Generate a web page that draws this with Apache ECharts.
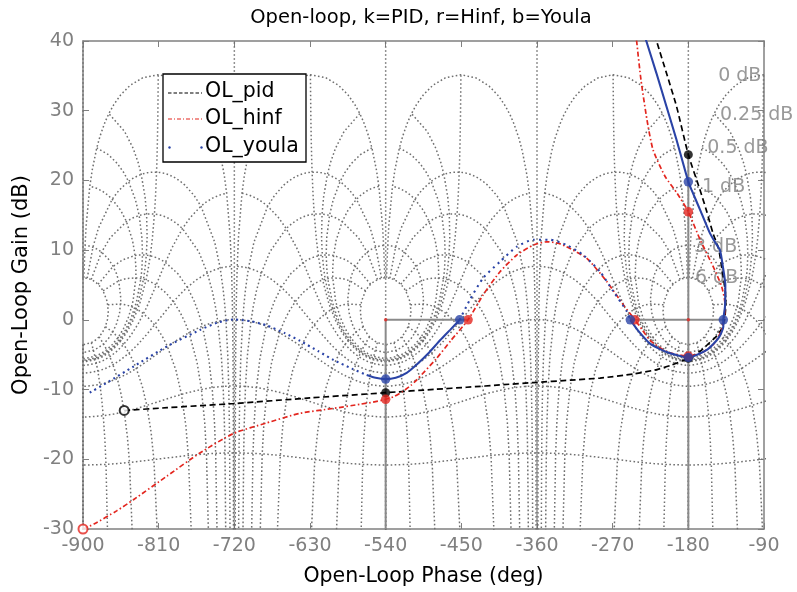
<!DOCTYPE html>
<html><head><meta charset="utf-8">
<script src="https://cdn.jsdelivr.net/npm/echarts@6/dist/echarts.min.js"></script>
<style>html,body{margin:0;padding:0;background:#fff}#c{width:797px;height:592px}</style>
</head><body><div id="c"></div>
<script>
// ---------- text ----------
const TITLE = 'Open-loop, k=PID, r=Hinf, b=Youla';
const X_NAME = 'Open-Loop Phase (deg)';
const Y_NAME = 'Open-Loop Gain (dB)';
const LEGEND_NAMES = ['OL_pid', 'OL_hinf', 'OL_youla'];

// ---------- axes ----------
const PHASE_MIN = -900, PHASE_MAX = -90, PHASE_STEP = 90;
const GAIN_MIN = -30, GAIN_MAX = 40, GAIN_STEP = 10;

// ---------- Nichols grid definition (closed-loop levels) ----------
const M_LEVELS_DB = [6, 3, 1, 0.5, 0.25, 0, -1, -3, -6, -12, -20];
const M_PHASE_PTS = [1, 2, 3, 4, 5, 7.5, 10, 15, 20, 25, 30, 45, 60, 75, 90, 105, 120, 135, 150, 175, 180];
const N_LEVELS_DEG = [1, 5, 10, 20, 30, 50, 90, 120, 150, 180];
const N_GAIN_PTS = [6, 3, 2, 1, .75, .5, .4, .3, .25, .2, .15, .1, .05, 0, -.05, -.1, -.15, -.2, -.25, -.3, -.4, -.5, -.75, -1, -2, -3, -4, -5, -6, -9, -12, -16, -20, -30, -40, -50, -60];
const GRID_COPIES = [0, -360, -720];
const GRID_LABELS = ['0 dB', '0.25 dB', '0.5 dB', '1 dB', '3 dB', '6 dB'];
const GRID_LABEL_PHASE = [-144.5, -142.4, -157.5, -163.8, -173.3, -172.1];
const GRID_LABEL_GAIN = [34.9, 29.4, 24.6, 19.1, 10.5, 6.0];

// ---------- open-loop data ----------
const pidPhase = [-851, -800, -720, -630, -540, -480, -443.6, -400, -364.4, -320, -285, -245.5, -220, -200, -180, -166, -155, -146, -140, -137, -135.5, -136, -137.6, -140.4, -144, -150.6, -158, -166, -180, -194, -205, -217.8, -224];
const pidGain  = [-13.0, -12.6, -12.0, -11.2, -10.45, -9.95, -9.67, -9.3, -9.0, -8.65, -8.35, -7.77, -7.2, -6.5, -5.5, -4.5, -3.3, -2.3, -1.2, 0, 2.0, 4.0, 5.5, 7.6, 10.2, 12.4, 15.5, 18.6, 23.7, 30.6, 35.0, 40.0, 42.5];

const hinfPhase = [-900, -887, -860, -840, -800, -761, -721, -682, -642, -602, -570, -555, -540, -530, -520, -510, -503, -480, -462, -442, -424, -404, -384, -364, -348.5, -335, -325, -301, -277, -257, -243.5, -235, -225, -205, -180, -165, -150, -141, -137, -136.5, -140.4, -150.3, -166, -180, -193, -207.8, -222, -229.2, -236.3, -241.5, -243];
const hinfGain  = [-30.0, -29.3, -27.4, -25.8, -22.4, -19.1, -16.3, -14.8, -13.4, -12.7, -12.1, -11.8, -11.4, -11.0, -10.3, -9.4, -8.6, -5.6, -2.9, 0, 3.6, 6.9, 9.3, 10.75, 11.2, 11.0, 10.5, 8.85, 5.5, 2.1, 0, -1.4, -3.0, -4.6, -5.2, -4.8, -3.5, -1.6, 0.5, 2.4, 4.8, 7.6, 11.5, 15.5, 18.1, 20.6, 24.4, 28.7, 34.4, 40.0, 42.0];

// youla drawn as dots; dense stretches look solid
const youlaPhaseA = [-892, -870, -840, -800, -761, -740, -721, -700, -681.5, -660, -642, -620, -602, -580, -562.6];
const youlaGainA  = [-10.45, -8.9, -6.7, -3.8, -1.45, -0.4, 0.05, -0.2, -0.8, -1.9, -3.0, -4.5, -5.75, -7.0, -7.9];
const youlaPhaseB = [-562.6, -552, -540, -528, -515, -503, -490, -475, -463, -452];
const youlaGainB  = [-7.9, -8.3, -8.5, -8.3, -7.6, -6.4, -4.9, -2.9, -1.4, 0];
const youlaPhaseC = [-452, -440, -424, -404, -384, -364, -345, -325, -305, -285, -269, -253, -249];
const youlaGainC  = [0, 2.85, 6.0, 8.35, 10.5, 11.5, 11.5, 10.75, 9.3, 6.9, 4.05, 1.2, 0];
const youlaPhaseD = [-249, -240, -225.6, -206, -180, -158, -144.4, -138.4, -138.4, -136.4, -136, -139, -142.4, -148, -154.2, -165, -176, -180, -194, -206, -218, -230, -233];
const youlaGainD  = [0, -1.5, -3.4, -4.6, -5.4, -4.3, -2.65, -1.0, 0, 1.9, 5.0, 7.7, 10.0, 11.1, 12.4, 15.5, 18.6, 19.8, 25.8, 30.6, 35.4, 40.0, 41.2];

// margin points
const pidMarkPhase = [-180, -540, -180];
const pidMarkGain  = [23.7, -10.45, -5.5];
const hinfMarkPhase = [-180, -540, -180, -442, -243.5];
const hinfMarkGain  = [15.5, -11.4, -5.2, 0, 0];
const youlaMarkPhase = [-180, -540, -180, -452, -249, -138.4];
const youlaMarkGain  = [19.8, -8.5, -5.4, 0, 0, 0];
const pidStart = [-851, -13.0];
const hinfStart = [-900, -30.0];
// margin lines
const marginSegments = [
  [[-180, 23.7], [-180, -30]],
  [[-540, 0], [-540, -30]],
  [[-540, 0], [-442, 0]],
  [[-249, 0], [-138.4, 0]]
];
const criticalPts = [[-540, 0], [-180, 0]];

// ---------- styles ----------
const GRAY = '#6f6f6f', RED = '#e3261f', BLUE = '#2a43a6', FONT = 'DejaVu Sans';

const zip = (a, b) => a.map((v, i) => [v, b[i]]);

function cl2ol(gdb, pdeg) {
  const g = Math.pow(10, gdb / 20), p = pdeg * Math.PI / 180;
  const zr = g * Math.cos(p), zi = g * Math.sin(p);
  const dr = 1 - zr, di = -zi, den = dr * dr + di * di;
  const hr = (zr * dr + zi * di) / den, hi = (zi * dr - zr * di) / den;
  return [(Math.atan2(hi, hr) * 180 / Math.PI + 360) % 360, 20 * Math.log10(Math.hypot(hr, hi))];
}

const gridLines = [];
N_LEVELS_DEG.forEach(p => {
  const pts = N_GAIN_PTS.map(g => cl2ol(g, p));
  GRID_COPIES.forEach(o => {
    gridLines.push(pts.map(([ph, g]) => [ph - 360 + o, g]));
    gridLines.push(pts.map(([ph, g]) => [-ph + o, g]));
  });
});
const sweep = M_PHASE_PTS.concat(M_PHASE_PTS.slice(0, -1).reverse().map(p => 360 - p));
M_LEVELS_DB.forEach(g => {
  const pts = sweep.map(p => cl2ol(g, p));
  GRID_COPIES.forEach(o => gridLines.push(pts.map(([ph, gg]) => [ph - 360 + o, gg])));
});
GRID_COPIES.forEach(o => {
  gridLines.push([[-360 + o, GAIN_MIN - 5], [-360 + o, GAIN_MAX + 5]]);
  gridLines.push([[-180 + o, 0], [-180 + o, GAIN_MAX + 5]]);
});

const series = [];
gridLines.forEach(d => series.push({
  type: 'line', data: d, symbol: 'none', silent: true, z: 1, animation: false,
  lineStyle: { color: GRAY, width: 1.5, type: [1.6, 2.4] }
}));
series.push({
  type: 'scatter', silent: true, z: 2, symbolSize: 0, animation: false,
  data: GRID_LABELS.map((t, i) => ({ value: [GRID_LABEL_PHASE[i], GRID_LABEL_GAIN[i]], name: t })),
  label: { show: true, position: 'right', distance: 0, formatter: p => p.name, color: '#808080', fontSize: 19, fontFamily: FONT }
});
marginSegments.forEach(d => series.push({
  type: 'line', data: d, symbol: 'none', silent: true, z: 3, animation: false,
  lineStyle: { color: '#8a8a8a', width: 2 }
}));
series.push({ type: 'scatter', data: criticalPts, symbolSize: 3.5, itemStyle: { color: RED }, z: 4, animation: false });

series.push({ name: 'OL_pid', type: 'line', data: zip(pidPhase, pidGain), symbol: 'none', smooth: 0.2, z: 5, animation: false,
  lineStyle: { color: '#000', width: 1.7, type: [6, 3.5] } });
series.push({ name: 'OL_hinf', type: 'line', data: zip(hinfPhase, hinfGain), symbol: 'none', smooth: 0.2, z: 6, animation: false,
  lineStyle: { color: RED, width: 1.7, type: [5, 2.5, 1.5, 2.5] } });
[[youlaPhaseA, youlaGainA, [2, 3.5]], [youlaPhaseB, youlaGainB, 'solid'], [youlaPhaseC, youlaGainC, [2, 4.2]], [youlaPhaseD, youlaGainD, 'solid']]
  .forEach(([ph, g, t]) => series.push({ name: 'OL_youla', type: 'line', data: zip(ph, g), symbol: 'none', smooth: 0.2, z: 7, animation: false,
    lineStyle: { color: BLUE, width: 2.1, type: t } }));

series.push({ type: 'scatter', data: [pidStart], symbol: 'emptyCircle', symbolSize: 9, itemStyle: { color: '#000', borderWidth: 1.5 }, z: 8, animation: false });
series.push({ type: 'scatter', data: [hinfStart], symbol: 'emptyCircle', symbolSize: 9, itemStyle: { color: RED, borderWidth: 1.5 }, z: 8, animation: false });
series.push({ type: 'scatter', data: zip(pidMarkPhase, pidMarkGain), symbolSize: 9, itemStyle: { color: '#000' }, z: 8, animation: false });
series.push({ type: 'scatter', data: zip(hinfMarkPhase, hinfMarkGain), symbolSize: 9.5, itemStyle: { color: RED }, z: 9, animation: false });
series.push({ type: 'scatter', data: zip(youlaMarkPhase, youlaMarkGain), symbolSize: 9.5, itemStyle: { color: BLUE }, z: 10, animation: false });

const axisCommon = {
  axisLine: { show: true, onZero: false, lineStyle: { color: '#808080', width: 1.5 } },
  axisTick: { show: true, inside: true, length: 6, lineStyle: { color: '#808080', width: 1 } },
  splitLine: { show: false }
};
const label = { color: '#808080', fontSize: 19, fontFamily: FONT };

const chart = echarts.init(document.getElementById('c'), null, { renderer: 'canvas' });
chart.setOption({
  animation: false,
  backgroundColor: '#fff',
  grid: { left: 83, right: 33, top: 41, bottom: 63 },
  xAxis: [
    Object.assign({ type: 'value', min: PHASE_MIN, max: PHASE_MAX, interval: PHASE_STEP, position: 'bottom',
      axisLabel: Object.assign({ margin: 8, showMinLabel: true, showMaxLabel: true }, label),
      name: X_NAME, nameLocation: 'middle', nameGap: 37, nameTextStyle: { color: '#000', fontSize: 20.5, fontFamily: FONT } }, axisCommon),
    Object.assign({ type: 'value', min: PHASE_MIN, max: PHASE_MAX, interval: PHASE_STEP, position: 'top', axisLabel: { show: false } }, axisCommon)
  ],
  yAxis: [
    Object.assign({ type: 'value', min: GAIN_MIN, max: GAIN_MAX, interval: GAIN_STEP, position: 'left',
      axisLabel: Object.assign({ margin: 9 }, label),
      name: Y_NAME, nameLocation: 'middle', nameGap: 48, nameTextStyle: { color: '#000', fontSize: 21, fontFamily: FONT } }, axisCommon),
    Object.assign({ type: 'value', min: GAIN_MIN, max: GAIN_MAX, interval: GAIN_STEP, position: 'right', axisLabel: { show: false } }, axisCommon)
  ],
  series: series,
  graphic: [
    { type: 'text', x: 421, y: 18, z: 50, style: { text: TITLE, fontSize: 19.5, fontFamily: FONT, fill: '#000', align: 'center', verticalAlign: 'middle' } },
    { type: 'rect', shape: { x: 163, y: 74, width: 143, height: 88 }, style: { fill: '#fff', stroke: '#000', lineWidth: 1.3 }, z: 100 },
    { type: 'line', shape: { x1: 168, y1: 93, x2: 202, y2: 93 }, style: { stroke: '#000', lineWidth: 1.2, lineDash: [3.5, 2] }, z: 101 },
    { type: 'line', shape: { x1: 168, y1: 119, x2: 202, y2: 119 }, style: { stroke: RED, lineWidth: 1.2, lineDash: [4, 2, 1, 2] }, z: 101 },
    { type: 'circle', shape: { cx: 169.5, cy: 147.5, r: 1.2 }, style: { fill: BLUE }, z: 101 },
    { type: 'circle', shape: { cx: 201.5, cy: 147.5, r: 1.2 }, style: { fill: BLUE }, z: 101 },
    { type: 'text', x: 205, y: 92, z: 101, style: { text: LEGEND_NAMES[0], fontSize: 20.5, fontFamily: FONT, fill: '#000', verticalAlign: 'middle' } },
    { type: 'text', x: 205, y: 118.5, z: 101, style: { text: LEGEND_NAMES[1], fontSize: 20.5, fontFamily: FONT, fill: '#000', verticalAlign: 'middle' } },
    { type: 'text', x: 205, y: 147, z: 101, style: { text: LEGEND_NAMES[2], fontSize: 20.5, fontFamily: FONT, fill: '#000', verticalAlign: 'middle' } }
  ]
});
</script></body></html>
